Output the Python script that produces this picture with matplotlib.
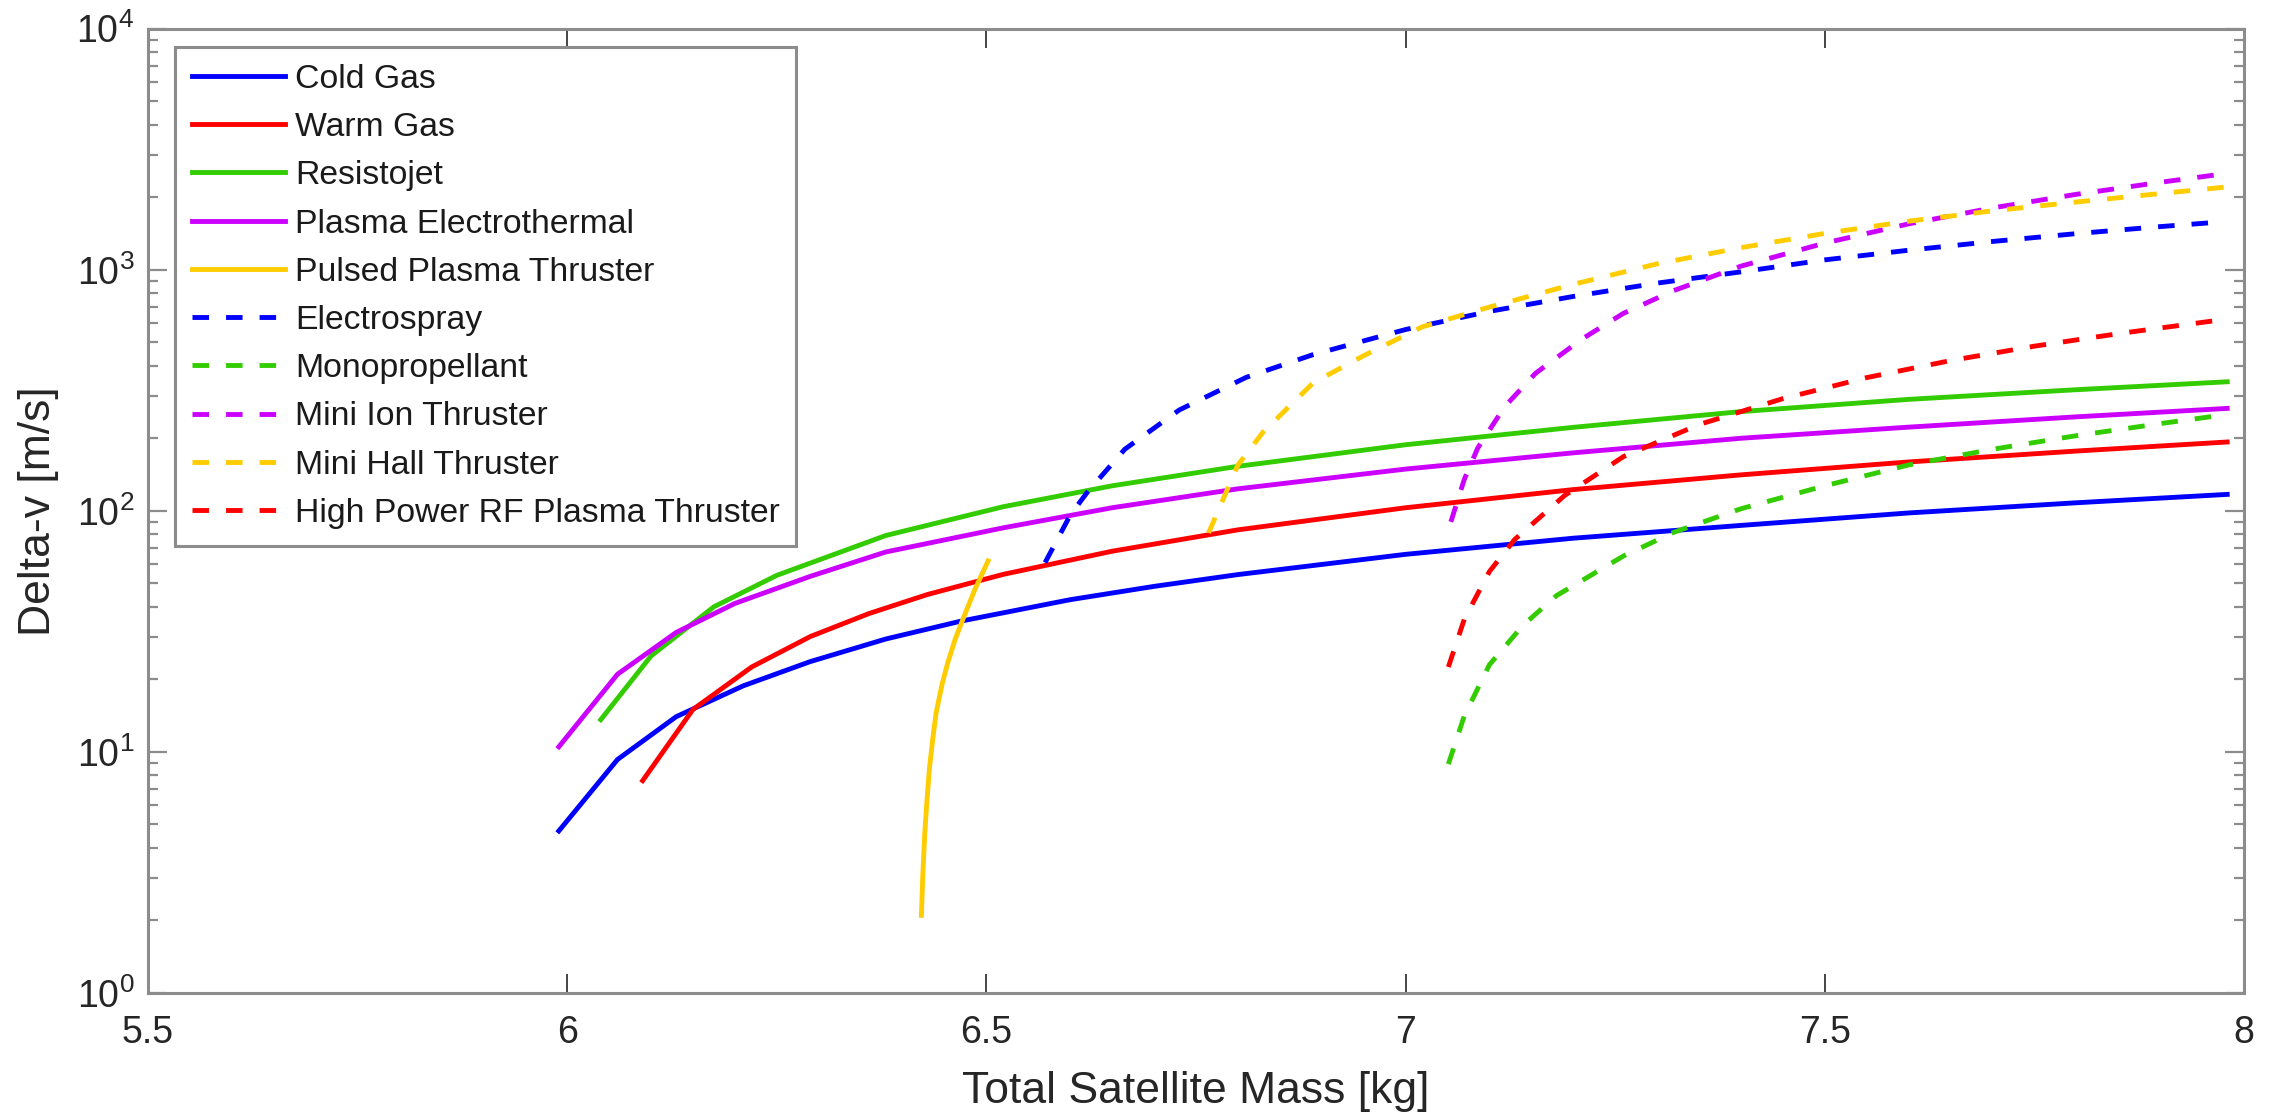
import matplotlib
matplotlib.use("Agg")
import matplotlib.pyplot as plt
from matplotlib.ticker import FixedLocator, LogLocator, NullFormatter

# Fuentes tipo Helvetica/Arial como en MATLAB
plt.rcParams['font.family'] = ['Liberation Sans', 'DejaVu Sans']
plt.rcParams['mathtext.fontset'] = 'custom'
plt.rcParams['mathtext.rm'] = 'Liberation Sans'
plt.rcParams['mathtext.it'] = 'Liberation Sans:italic'

# Datos (masa total [kg], delta-v [m/s])
cold_gas_x = [5.99, 6.06, 6.13, 6.21, 6.29, 6.38, 6.47, 6.6, 6.7, 6.8, 7.0, 7.2, 7.4, 7.6, 7.8, 7.98]
cold_gas_y = [4.7, 9.3, 14.0, 18.8, 23.7, 29.4, 34.9, 42.8, 48.6, 54.4, 66, 77, 87, 98, 108, 117]

warm_gas_x = [6.09, 6.15, 6.22, 6.29, 6.36, 6.43, 6.52, 6.65, 6.8, 7.0, 7.2, 7.4, 7.6, 7.8, 7.98]
warm_gas_y = [7.6, 15.0, 22.5, 30.1, 37.5, 45, 54.5, 68, 83.4, 103, 122.5, 141, 159.5, 177, 193]

resistojet_x = [6.04, 6.10, 6.175, 6.25, 6.38, 6.52, 6.65, 6.8, 7.0, 7.2, 7.4, 7.6, 7.8, 7.98]
resistojet_y = [13.6, 25, 40, 54, 79, 104, 127, 153, 188, 222, 258, 290, 318, 343]

pet_x = [5.99, 6.06, 6.13, 6.2, 6.29, 6.38, 6.52, 6.65, 6.8, 7.0, 7.2, 7.4, 7.6, 7.8, 7.98]
pet_y = [10.5, 21, 31.3, 41.3, 53.5, 67.5, 85, 103, 123.4, 149, 174, 200, 222.4, 245.4, 266]

ppt_x = [6.4225, 6.424, 6.4265, 6.429, 6.432, 6.436, 6.44, 6.447, 6.454, 6.463, 6.472, 6.486, 6.502]
ppt_y = [2.1, 3.0, 4.6, 6.2, 8.5, 11.3, 14.5, 19, 23.5, 29.5, 35.5, 47, 62]

electrospray_x = [6.57, 6.60, 6.62, 6.665, 6.73, 6.81, 6.89, 7.0, 7.1, 7.2, 7.3, 7.4, 7.5, 7.6, 7.7, 7.8, 7.9, 7.976]
electrospray_y = [61, 96, 119, 180, 262, 358, 445, 565, 672, 775, 880, 980, 1099, 1205, 1310, 1412, 1510, 1582]

mono_x = [7.051, 7.07, 7.10, 7.14, 7.18, 7.26, 7.32, 7.4, 7.5, 7.6, 7.7, 7.8, 7.9, 7.976]
mono_y = [8.9, 14.1, 23, 33.5, 44.5, 65, 81.5, 102, 127, 155, 180, 205, 230, 250]

ion_x = [7.054, 7.07, 7.086, 7.118, 7.155, 7.21, 7.26, 7.32, 7.4, 7.5, 7.6, 7.7, 7.8, 7.9, 7.976]
ion_y = [90, 135, 182, 270, 372, 515, 660, 820, 1035, 1290, 1550, 1805, 2055, 2305, 2500]

hall_x = [6.765, 6.80, 6.83, 6.89, 6.95, 7.02, 7.1, 7.2, 7.3, 7.4, 7.5, 7.6, 7.7, 7.8, 7.9, 7.976]
hall_y = [81, 155, 212, 340, 440, 580, 700, 870, 1058, 1235, 1415, 1590, 1755, 1910, 2070, 2199]

rf_x = [7.051, 7.07, 7.10, 7.13, 7.19, 7.26, 7.35, 7.45, 7.55, 7.65, 7.75, 7.85, 7.976]
rf_y = [22.5, 35.5, 56, 76, 116, 168, 228, 292, 357, 420, 482, 543, 622]

# Colores tipo MATLAB
azul = (0.0, 0.0, 1.0)
rojo = (1.0, 0.0, 0.0)
verde = (0.2, 0.8, 0.0)
morado = (0.8, 0.0, 1.0)
amarillo = (1.0, 0.8, 0.0)

series = [
    ("Cold Gas", cold_gas_x, cold_gas_y, azul, "-"),
    ("Warm Gas", warm_gas_x, warm_gas_y, rojo, "-"),
    ("Resistojet", resistojet_x, resistojet_y, verde, "-"),
    ("Plasma Electrothermal", pet_x, pet_y, morado, "-"),
    ("Pulsed Plasma Thruster", ppt_x, ppt_y, amarillo, "-"),
    ("Electrospray", electrospray_x, electrospray_y, azul, "--"),
    ("Monopropellant", mono_x, mono_y, verde, "--"),
    ("Mini Ion Thruster", ion_x, ion_y, morado, "--"),
    ("Mini Hall Thruster", hall_x, hall_y, amarillo, "--"),
    ("High Power RF Plasma Thruster", rf_x, rf_y, rojo, "--"),
]

fig = plt.figure(figsize=(22.77, 11.2), dpi=100)
ax = fig.add_axes([0.065, 0.1134, 0.9205, 0.861])

for nombre, xs, ys, color, estilo in series:
    if estilo == "--":
        ax.plot(xs, ys, color=color, linewidth=3.5, linestyle=(0, (3.4, 3.5)), label=nombre)
    else:
        ax.plot(xs, ys, color=color, linewidth=3.5, label=nombre)

ax.set_yscale("log")
ax.set_xlim(5.5, 8)
ax.set_ylim(1, 1e4)

ax.xaxis.set_major_locator(FixedLocator([5.5, 6, 6.5, 7, 7.5, 8]))
ax.set_xticklabels(["5.5", "6", "6.5", "7", "7.5", "8"])
ax.yaxis.set_major_locator(FixedLocator([1, 10, 100, 1000, 10000]))
ax.yaxis.set_minor_locator(LogLocator(base=10, subs=range(2, 10)))
ax.yaxis.set_minor_formatter(NullFormatter())

gris_texto = "#262626"
for lado in ax.spines.values():
    lado.set_color("#8c8c8c")
    lado.set_linewidth(2.2)

ax.tick_params(axis="x", which="major", direction="in", top=True, bottom=True,
               length=14, width=1.2, color="#262626", labelsize=27, labelcolor=gris_texto, pad=16)
ax.tick_params(axis="y", which="major", direction="in", left=True, right=True,
               length=14, width=1.6, color="#8c8c8c", labelsize=27, labelcolor=gris_texto, pad=10)
ax.tick_params(axis="y", which="minor", direction="in", left=True, right=True,
               length=7, width=1.6, color="#8c8c8c")

ax.set_xlabel("Total Satellite Mass [kg]", fontsize=32, color=gris_texto, labelpad=14)
ax.set_ylabel("Delta-v [m/s]", fontsize=32, color=gris_texto, labelpad=12)

leg = ax.legend(loc="upper left", bbox_to_anchor=(0.0129, 0.981), borderaxespad=0,
                fontsize=24.3, frameon=True, fancybox=False, framealpha=1,
                handlelength=2.75, handletextpad=0.3, labelspacing=0.51,
                borderpad=0.5)
leg.get_frame().set_edgecolor("#8c8c8c")
leg.get_frame().set_linewidth(2.2)
for texto in leg.get_texts():
    texto.set_color("#1a1a1a")

fig.savefig("out.png", dpi=100)
plt.close(fig)
